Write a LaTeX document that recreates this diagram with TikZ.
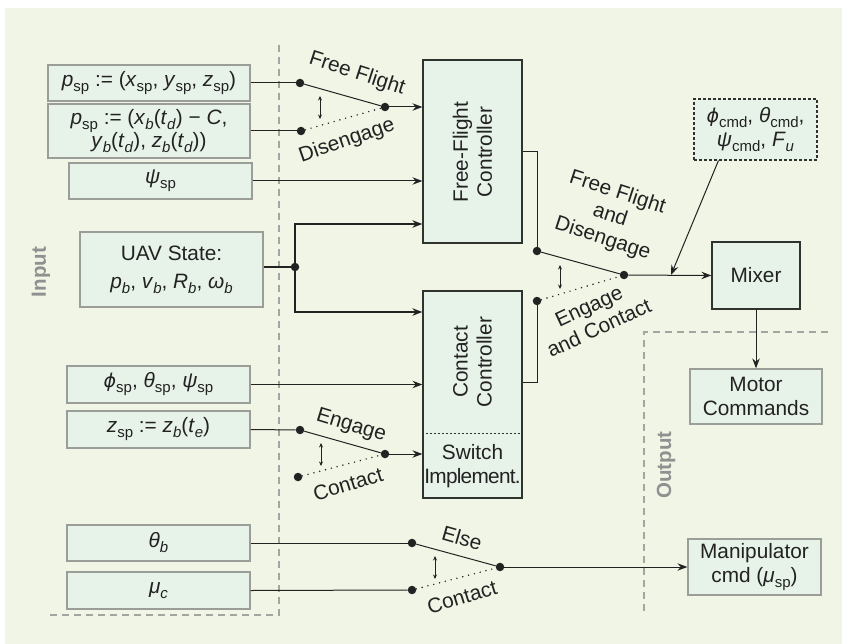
\documentclass[tikz,border=0pt]{standalone}
\usepackage{fontspec}
\setmainfont{Liberation Sans}
\newfontfamily\djv{DejaVu Sans}
\usetikzlibrary{arrows.meta}
\definecolor{bgc}{HTML}{F1F5E5}
\definecolor{boxc}{HTML}{E7F2E9}
\definecolor{inb}{HTML}{9A9D98}
\definecolor{ctb}{HTML}{2E332E}
\definecolor{dashc}{HTML}{A3A5A0}
\definecolor{lblc}{HTML}{8E9190}
\definecolor{ink}{HTML}{222222}
\newcommand\sbs[1]{\raisebox{-0.24em}{\fontsize{15}{15}\selectfont #1}}
\newcommand\iv[1]{\textit{#1}}
\newcommand\phiv{{\djv\itshape\fontsize{19}{24}\selectfont ϕ}}
\begin{document}
\begin{tikzpicture}[x=1pt,y=-1pt,font=\fontsize{20.8}{24}\selectfont,
  inbox/.style={draw=inb,fill=boxc,line width=1.3pt,inner sep=0pt,align=center,text=ink},
  ctrlbox/.style={draw=ctb,fill=boxc,line width=1.3pt,inner sep=0pt,align=center,text=ink},
  wire/.style={draw=ink,line width=1pt},
  arr/.style={wire,-{Stealth[length=10pt,width=7.5pt,inset=3.5pt]}},
  bus/.style={draw=ink,line width=2pt},
  busarr/.style={bus,-{Stealth[length=10pt,width=7.5pt,inset=3.5pt]}},
  dot/.style={circle,fill=ink,inner sep=0pt,minimum size=8.5pt},
  offpos/.style={draw=ink,line width=1.6pt,dash pattern=on 0pt off 6pt,line cap=round},
  toggle/.style={draw=ink,line width=0.9pt,{Stealth[length=4.5pt,width=4pt]}-{Stealth[length=4.5pt,width=4pt]}},
  gdash/.style={draw=dashc,line width=1.3pt,dash pattern=on 7pt off 5pt},
  swl/.style={text=ink,inner sep=0pt},
  sidelbl/.style={text=lblc,font=\fontsize{20.5}{24}\selectfont\bfseries,rotate=90,inner sep=0pt}]
\useasboundingbox (0,0) rectangle (842,644);
\fill[white] (0,0) rectangle (842,644);
\fill[bgc] (5,8) rectangle (842,644);

% region borders
\draw[gdash] (279,45) -- (279,615) -- (46,615);
\draw[gdash] (828,332) -- (644,332) -- (644,615);
\node[sidelbl] (inl) at (41,272) {Input};
\node[sidelbl] (outl) at (666,465) {Output};

% input boxes
\node[inbox,minimum width=202pt,minimum height=36pt] (p1) at (149,83)
  {\iv{p}\sbs{sp} := (\iv{x}\sbs{sp}, \iv{y}\sbs{sp}, \iv{z}\sbs{sp})};
\node[inbox,minimum width=202pt,minimum height=54pt] (p2) at (149,131)
  {\iv{p}\sbs{sp} := (\iv{x}\sbs{\iv{b}}(\iv{t}\sbs{\iv{d}}) − \iv{C},\\[-1pt]
   \iv{y}\sbs{\iv{b}}(\iv{t}\sbs{\iv{d}}), \iv{z}\sbs{\iv{b}}(\iv{t}\sbs{\iv{d}}))};
\node[inbox,minimum width=183pt,minimum height=36pt] (psi) at (160.5,181) {\iv{ψ}\sbs{sp}};
\node[inbox,minimum width=183pt,minimum height=75pt] (uav) at (171.5,269.5)
  {UAV State:\\[4pt] \iv{p}\sbs{\iv{b}}, \iv{v}\sbs{\iv{b}}, \iv{R}\sbs{\iv{b}}, \iv{ω}\sbs{\iv{b}}};
\node[inbox,minimum width=183pt,minimum height=37pt] (att) at (158.5,384.5)
  {\phiv\sbs{sp}, \iv{θ}\sbs{sp}, \iv{ψ}\sbs{sp}};
\node[inbox,minimum width=183pt,minimum height=37pt] (zsp) at (158.5,429.5)
  {\iv{z}\sbs{sp} := \iv{z}\sbs{\iv{b}}(\iv{t}\sbs{\iv{e}})};
\node[inbox,minimum width=183pt,minimum height=36pt] (thb) at (158.5,543) {\iv{θ}\sbs{\iv{b}}};
\node[inbox,minimum width=183pt,minimum height=37pt] (muc) at (158.5,590.5) {\iv{μ}\sbs{\iv{c}}};

% controllers
\node[ctrlbox,minimum width=99pt,minimum height=183pt] (ffc) at (472.5,151.5) {};
\node[text=ink,rotate=90,align=center,inner sep=0pt] (ffct) at (472.5,152) {Free-Flight\\Controller};
\node[ctrlbox,minimum width=99pt,minimum height=207pt] (cc) at (472.5,394.5) {};
\coordinate (dv) at (472,433);
\draw[ctb,line width=1pt,dash pattern=on 2pt off 2pt] (cc.west |- dv) -- (cc.east |- dv);
\node[text=ink,rotate=90,align=center,inner sep=0pt] (cct) at (472.5,362) {Contact\\Controller};
\node[text=ink,align=center,inner sep=0pt] (swi) at (472.5,466)
  {Switch\\{\addfontfeature{LetterSpace=-3.5}Implement.}};

% output side
\node[ctrlbox,minimum width=88pt,minimum height=67pt] (mix) at (756,275.5) {Mixer};
\node[inbox,minimum width=132pt,minimum height=55pt] (mot) at (756,396.5) {Motor\\Commands};
\node[inbox,minimum width=133pt,minimum height=56pt] (man) at (754.5,567)
  {Manipulator\\cmd (\iv{μ}\sbs{sp})};
\node[draw=ctb,fill=boxc,line width=1.1pt,dash pattern=on 3pt off 2pt,inner sep=0pt,align=center,
  minimum width=123pt,minimum height=61pt,text=ink] (cmd) at (755.5,129.5)
  {\phiv\sbs{cmd}, \iv{θ}\sbs{cmd},\\ \iv{ψ}\sbs{cmd}, \iv{F}\sbs{\iv{u}}};

% switch 1 (Free Flight / Disengage)
\node[dot] (a1) at (300,83) {};
\node[dot] (b1) at (301,131) {};
\node[dot] (o1) at (385,107) {};
\draw[wire] (p1.east) -- (a1);
\draw[wire] (p2.east) -- (b1);
\draw[wire] (a1) -- (o1);
\draw[offpos] (b1) -- (o1);
\draw[arr] (o1) -- (o1 -| ffc.west);
\draw[toggle] (320,96) -- (320,119);
\node[swl,rotate=-18] (l1a) at (357,74) {Free Flight};
\node[swl,rotate=19] (l1b) at (347,141) {Disengage};

% psi
\draw[arr] (psi.east) -- (psi.east -| ffc.west);

% UAV state bus
\node[dot] (J) at (295,267) {};
\coordinate (ju) at (295,224);
\coordinate (jd) at (295,312);
\draw[bus] (uav.east |- J) -- (J);
\draw[busarr] (J.center) |- (ffc.west |- ju);
\draw[busarr] (J.center) |- (cc.west |- jd);

% attitude set points
\draw[arr] (att.east) -- (att.east -| cc.west);

% switch 2 (Engage / Contact)
\node[dot] (a2) at (300,430) {};
\node[dot] (b2) at (298,477) {};
\node[dot] (o2) at (385,454) {};
\draw[wire] (zsp.east) -- (a2);
\draw[wire] (a2) -- (o2);
\draw[offpos] (b2) -- (o2);
\draw[arr] (o2) -- (o2 -| cc.west);
\draw[toggle] (321,443) -- (321,466);
\node[swl,rotate=-17] (l2a) at (351,426) {Engage};
\node[swl,rotate=17] (l2b) at (348,484) {Contact};

% switch 3 (Else / Contact)
\node[dot] (a3) at (412,543) {};
\node[dot] (b3) at (412,590) {};
\node[dot] (o3) at (500,567) {};
\draw[wire] (thb.east) -- (a3);
\draw[wire] (muc.east) -- (b3);
\draw[wire] (a3) -- (o3);
\draw[offpos] (b3) -- (o3);
\draw[arr] (o3) -- (man.west);
\draw[toggle] (435,556) -- (435,579);
\node[swl,rotate=-16] (l3a) at (462,538) {Else};
\node[swl,rotate=17] (l3b) at (462,597) {Contact};

% switch 4 (controllers -> mixer)
\node[dot] (a4) at (537,251) {};
\node[dot] (b4) at (537,301) {};
\node[dot] (o4) at (624,275) {};
\coordinate (k4) at (530,382);
\draw[wire] (ffc.east) -| (a4);
\draw[wire] (cc.east |- k4) -| (b4);
\draw[wire] (a4) -- (o4);
\draw[offpos] (b4) -- (o4);
\draw[arr] (o4) -- (mix.west);
\draw[toggle] (560,265) -- (560,289);
\node[swl,rotate=-18,align=center] (l4a) at (610,216) {Free Flight\\and\\Disengage};
\node[swl,rotate=25,align=center] (l4b) at (594,317) {Engage\\and Contact};

% commands into mixer line
\coordinate (mj) at (671,275);
\draw[arr] ([xshift=25pt]cmd.south west) -- (mj);
\draw[arr] (mix.south) -- (mot.north);
\end{tikzpicture}
\end{document}
